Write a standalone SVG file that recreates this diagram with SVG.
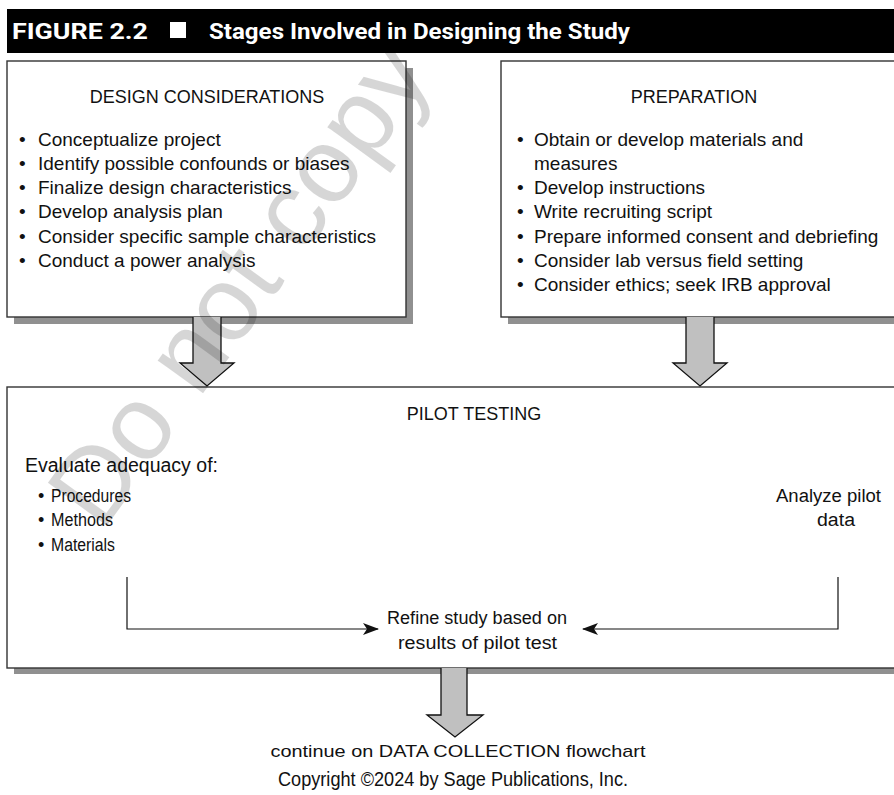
<svg xmlns="http://www.w3.org/2000/svg" width="894" height="795" viewBox="0 0 894 795">
  <style>
    .box { fill: #ffffff; stroke: #333333; stroke-width: 1.4; }
    .shadow { fill: #909090; }
    .block { fill: #c0c0c0; stroke: #111111; stroke-width: 1.3; stroke-linejoin: miter; }
    .t { font-family: "Liberation Sans", Arial, sans-serif; fill: #111111; }
    .head { font-size: 18px; }
    .item { font-size: 19px; }
    .narrow { font-family: "Liberation Sans Narrow", "Liberation Sans", Arial, sans-serif; font-size: 18px; fill: #111111; }
    .title { font-family: "Roboto", "DejaVu Sans", sans-serif; font-weight: bold; font-size: 22px; fill: #ffffff; }
    .flow { fill: none; stroke: #111111; stroke-width: 1.2; }
    .mark { font-family: "Liberation Sans", Arial, sans-serif; font-size: 106px; fill: #000000; fill-opacity: 0.16; }
  </style>
  <defs>
    <marker id="tip" viewBox="0 0 16 12" refX="15" refY="6" markerWidth="16" markerHeight="12" markerUnits="userSpaceOnUse" orient="auto">
      <path d="M0,0 L16,6 L0,12 L4,6 Z" fill="#111111"/>
    </marker>
  </defs>

  <!-- figure caption bar -->
  <g id="caption">
    <rect x="7" y="9" width="887" height="44" fill="#000000"/>
    <text class="title" x="12" y="39" textLength="136" lengthAdjust="spacingAndGlyphs">FIGURE 2.2</text>
    <rect x="170" y="22" width="16" height="16" fill="#ffffff"/>
    <text class="title" x="209" y="39" textLength="421" lengthAdjust="spacingAndGlyphs">Stages Involved in Designing the Study</text>
  </g>

  <!-- design considerations -->
  <g id="design">
    <rect class="shadow" x="14" y="68" width="399" height="256"/>
    <rect class="box" x="7" y="61" width="399" height="256"/>
    <text class="t head" x="207" y="103" text-anchor="middle">DESIGN CONSIDERATIONS</text>
    <g class="t item">
      <text x="19" y="146">•</text><text x="38" y="146">Conceptualize project</text>
      <text x="19" y="170">•</text><text x="38" y="170">Identify possible confounds or biases</text>
      <text x="19" y="194">•</text><text x="38" y="194">Finalize design characteristics</text>
      <text x="19" y="218">•</text><text x="38" y="218">Develop analysis plan</text>
      <text x="19" y="243">•</text><text x="38" y="243">Consider specific sample characteristics</text>
      <text x="19" y="267">•</text><text x="38" y="267">Conduct a power analysis</text>
    </g>
  </g>

  <!-- preparation -->
  <g id="preparation">
    <rect class="shadow" x="508" y="68" width="400" height="256"/>
    <rect class="box" x="501" y="61" width="400" height="256"/>
    <text class="t head" x="694" y="103" text-anchor="middle">PREPARATION</text>
    <g class="t item">
      <text x="517" y="146">•</text><text x="534" y="146">Obtain or develop materials and</text>
      <text x="534" y="170">measures</text>
      <text x="517" y="194">•</text><text x="534" y="194">Develop instructions</text>
      <text x="517" y="218">•</text><text x="534" y="218">Write recruiting script</text>
      <text x="517" y="243">•</text><text x="534" y="243">Prepare informed consent and debriefing</text>
      <text x="517" y="267">•</text><text x="534" y="267">Consider lab versus field setting</text>
      <text x="517" y="291">•</text><text x="534" y="291">Consider ethics; seek IRB approval</text>
    </g>
  </g>

  <!-- pilot testing -->
  <g id="pilot">
    <rect class="shadow" x="14" y="394" width="894" height="280"/>
    <rect class="box" x="7" y="387" width="894" height="281"/>
    <text class="t head" x="474" y="420" text-anchor="middle">PILOT TESTING</text>
    <text class="t" x="25" y="472" font-size="19.5">Evaluate adequacy of:</text>
    <g class="narrow">
      <text x="38" y="502">•</text><text x="51" y="502" textLength="80" lengthAdjust="spacingAndGlyphs">Procedures</text>
      <text x="38" y="526">•</text><text x="51" y="526" textLength="62" lengthAdjust="spacingAndGlyphs">Methods</text>
      <text x="38" y="551">•</text><text x="51" y="551" textLength="64" lengthAdjust="spacingAndGlyphs">Materials</text>
      <text x="776" y="502" textLength="105" lengthAdjust="spacingAndGlyphs">Analyze pilot</text>
      <text x="817" y="526" textLength="38" lengthAdjust="spacingAndGlyphs">data</text>
      <text x="387" y="624" textLength="180" lengthAdjust="spacingAndGlyphs">Refine study based on</text>
      <text x="398" y="649" textLength="159" lengthAdjust="spacingAndGlyphs">results of pilot test</text>
    </g>
  </g>

  <!-- connectors -->
  <g id="connectors">
    <path class="block" d="M193,317 V363 H180 L207,386 L234,363 H221 V317"/>
    <path class="block" d="M686,317 V363 H673 L700,386 L727,363 H714 V317"/>
    <path class="block" d="M441,668 V715 H427 L455,737 L483,715 H467 V668"/>
    <path class="flow" d="M127,577 V629 H378" marker-end="url(#tip)"/>
    <path class="flow" d="M838,577 V629 H583" marker-end="url(#tip)"/>
  </g>

  <text class="t" x="458" y="757" font-size="17" text-anchor="middle" textLength="375" lengthAdjust="spacingAndGlyphs">continue on DATA COLLECTION flowchart</text>
  <text class="narrow" x="278" y="786" textLength="350" lengthAdjust="spacingAndGlyphs" style="font-size:20px">Copyright ©2024 by Sage Publications, Inc.</text>

  <!-- diagonal watermark -->
  <text class="mark" x="268" y="304" text-anchor="middle" transform="rotate(-54 268 304)">Do not copy</text>
</svg>
